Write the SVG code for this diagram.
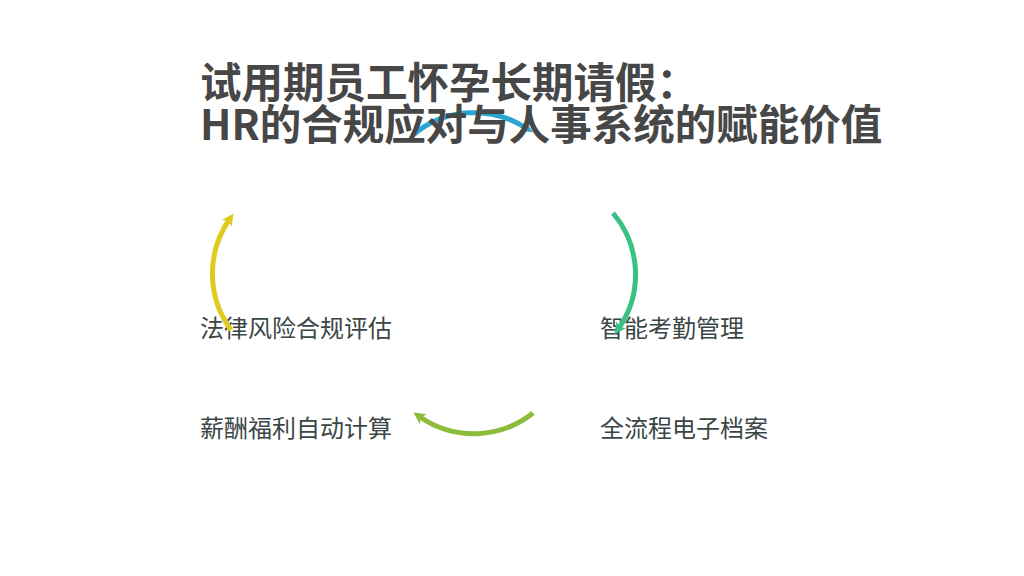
<svg xmlns="http://www.w3.org/2000/svg" width="1024" height="576" viewBox="0 0 1024 576">
<style>
.title{font-family:"Noto Sans CJK SC","Liberation Sans",sans-serif;font-weight:700;font-size:41.5px;fill:#474747}
.label{font-family:"Noto Sans CJK SC","Liberation Sans",sans-serif;font-size:24px;fill:#3b4646}
.arc{fill:none;stroke-width:5;stroke-linecap:butt}
</style>
<defs>
<marker id="mb" markerUnits="userSpaceOnUse" markerWidth="16" markerHeight="16" refX="4" refY="7" orient="auto"><path d="M0,1 L12,7 L0,13 L3,7 Z" fill="#2aa5d3"/></marker>
<marker id="mg" markerUnits="userSpaceOnUse" markerWidth="16" markerHeight="16" refX="4" refY="7" orient="auto"><path d="M0,1 L12,7 L0,13 L3,7 Z" fill="#38c283"/></marker>
<marker id="my" markerUnits="userSpaceOnUse" markerWidth="16" markerHeight="16" refX="4" refY="7" orient="auto"><path d="M0,1 L12,7 L0,13 L3,7 Z" fill="#dfcb1f"/></marker>
<marker id="ml" markerUnits="userSpaceOnUse" markerWidth="16" markerHeight="16" refX="4" refY="7" orient="auto"><path d="M0,1 L12,7 L0,13 L3,7 Z" fill="#8dbb3b"/></marker>
</defs>
<rect width="1024" height="576" fill="#ffffff"/>
<g id="connectors">
<path class="arc" stroke="#2aa5d3" d="M413,135 A95,95 0 0 1 526,128" marker-end="url(#mb)"/>
</g>
<g id="title">
<text class="title" x="200" y="98">试用期员工怀孕长期请假：<tspan x="200" y="140">HR的合规应对与人事系统的赋能价值</tspan></text>
</g>
<g id="node-legal"><text class="label" x="200" y="337">法律风险合规评估</text></g>
<g id="node-attendance"><text class="label" x="600" y="337">智能考勤管理</text></g>
<g id="node-payroll"><text class="label" x="200" y="437">薪酬福利自动计算</text></g>
<g id="node-archive"><text class="label" x="600" y="437">全流程电子档案</text></g>
<g id="connectors2">
<path class="arc" stroke="#38c283" d="M613,213 A95,95 0 0 1 619,328" marker-end="url(#mg)"/>
<path class="arc" stroke="#dfcb1f" d="M231,330 A95,95 0 0 1 229,220" marker-end="url(#my)"/>
<path class="arc" stroke="#8dbb3b" d="M533,413 A95,95 0 0 1 420,417" marker-end="url(#ml)"/>
</g>
</svg>
